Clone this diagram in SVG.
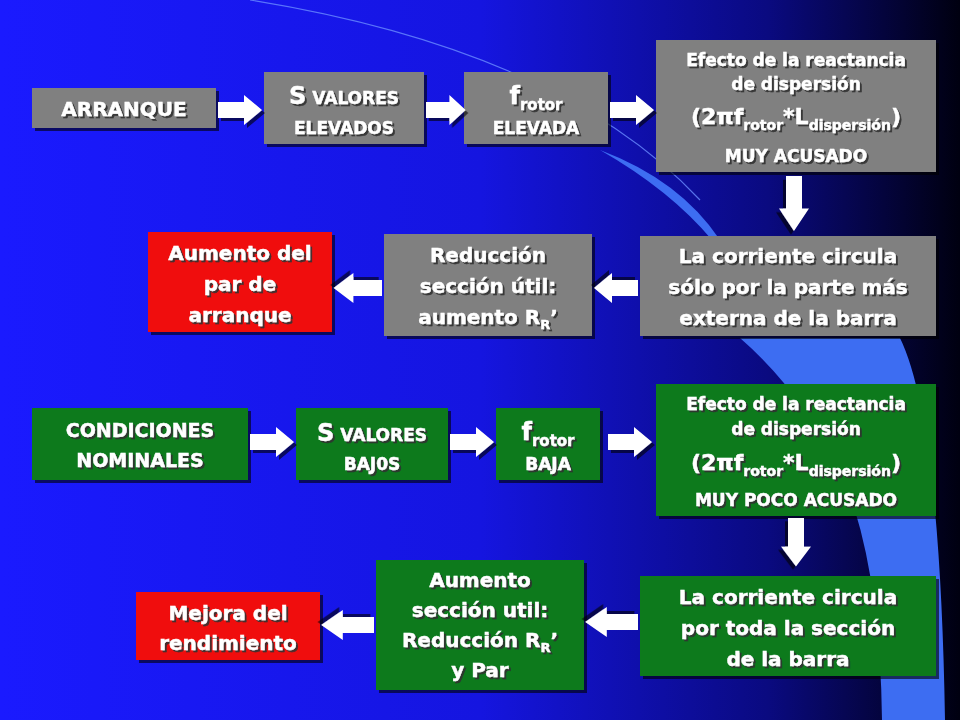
<svg xmlns="http://www.w3.org/2000/svg" width="960" height="720" viewBox="0 0 960 720">
<defs>
<linearGradient id="bg" x1="0" y1="0" x2="1" y2="0">
<stop offset="0" stop-color="#1a1aff"/><stop offset="0.5" stop-color="#1515e0"/><stop offset="0.8" stop-color="#0a0a80"/><stop offset="1" stop-color="#000010"/>
</linearGradient>
<filter id="sh" x="-10%" y="-10%" width="130%" height="130%"><feDropShadow dx="3" dy="3" stdDeviation="0.5" flood-color="#000" flood-opacity="0.6"/></filter>
<filter id="ts" x="-10%" y="-10%" width="130%" height="130%"><feDropShadow dx="2" dy="2" stdDeviation="0.3" flood-color="#333" flood-opacity="0.9"/></filter>
<path id="ar" d="M0,-8 L26,-8 L26,-15 L44,0 L26,15 L26,8 L0,8 Z"/>
</defs>
<style>
.g{fill:#808080}.r{fill:#f00f0f}.n{fill:#0a7a1e}
text{font-family:"DejaVu Sans",Verdana,sans-serif;font-weight:bold;fill:#fff;text-anchor:middle;filter:url(#ts);stroke:#fff;stroke-width:0.4}
.a{fill:#fff;filter:url(#sh)}
</style>
<rect width="960" height="720" fill="url(#bg)"/>
<path d="M250,0 Q560,50 700,200" fill="none" stroke="#6a8cff" stroke-width="1.2" opacity="0.8"/>
<path d="M600,150 Q680,180 720,240 L712,240 Q670,190 600,150 Z" fill="#3d6df2"/>
<path d="M740,338 L900,338 Q940,420 945,720 L882,720 Q880,560 840,470 Q800,390 740,338 Z" fill="#3d6df2"/>
<g id="n1" filter="url(#sh)"><rect class="g" x="32" y="88" width="184" height="40"/><text x="124" y="116" font-size="20">ARRANQUE</text></g>
<g id="n2" filter="url(#sh)"><rect class="g" x="264" y="72" width="160" height="72"/><text x="344" y="104" font-size="17"><tspan font-size="24">S</tspan> VALORES</text><text x="344" y="134" font-size="17">ELEVADOS</text></g>
<g id="n3" filter="url(#sh)"><rect class="g" x="464" y="72" width="144" height="72"/><text x="536" y="104" font-size="24">f<tspan font-size="15" dy="6">rotor</tspan></text><text x="536" y="134" font-size="17">ELEVADA</text></g>
<g id="n4" filter="url(#sh)"><rect class="g" x="656" y="40" width="280" height="132"/><text x="796" y="66" font-size="17">Efecto de la reactancia</text><text x="796" y="90" font-size="17">de dispersión</text><text x="796" y="124" font-size="22">(2πf<tspan font-size="14" dy="6">rotor</tspan><tspan dy="-6">*L</tspan><tspan font-size="14" dy="6">dispersión</tspan><tspan dy="-6">)</tspan></text><text x="796" y="162" font-size="17">MUY ACUSADO</text></g>
<g id="n5" filter="url(#sh)"><rect class="g" x="640" y="236" width="296" height="100"/><text x="788" y="263" font-size="20">La corriente circula</text><text x="788" y="294" font-size="20">sólo por la parte más</text><text x="788" y="325" font-size="20">externa de la barra</text></g>
<g id="n6" filter="url(#sh)"><rect class="g" x="384" y="234" width="208" height="102"/><text x="488" y="262" font-size="20">Reducción</text><text x="488" y="293" font-size="20">sección útil:</text><text x="488" y="324" font-size="20">aumento R<tspan font-size="13" dy="5">R</tspan><tspan dy="-5">’</tspan></text></g>
<g id="n7" filter="url(#sh)"><rect class="r" x="148" y="232" width="184" height="100"/><text x="240" y="260" font-size="20">Aumento del</text><text x="240" y="291" font-size="20">par de</text><text x="240" y="322" font-size="20">arranque</text></g>
<g id="n8" filter="url(#sh)"><rect class="n" x="32" y="408" width="216" height="72"/><text x="140" y="437" font-size="19">CONDICIONES</text><text x="140" y="467" font-size="19">NOMINALES</text></g>
<g id="n9" filter="url(#sh)"><rect class="n" x="296" y="408" width="152" height="72"/><text x="372" y="441" font-size="17"><tspan font-size="24">S</tspan> VALORES</text><text x="372" y="470" font-size="17">BAJ0S</text></g>
<g id="n10" filter="url(#sh)"><rect class="n" x="496" y="408" width="104" height="72"/><text x="548" y="440" font-size="24">f<tspan font-size="15" dy="6">rotor</tspan></text><text x="548" y="470" font-size="17">BAJA</text></g>
<g id="n11" filter="url(#sh)"><rect class="n" x="656" y="384" width="280" height="132"/><text x="796" y="410" font-size="17">Efecto de la reactancia</text><text x="796" y="435" font-size="17">de dispersión</text><text x="796" y="470" font-size="22">(2πf<tspan font-size="14" dy="6">rotor</tspan><tspan dy="-6">*L</tspan><tspan font-size="14" dy="6">dispersión</tspan><tspan dy="-6">)</tspan></text><text x="796" y="506" font-size="17">MUY POCO ACUSADO</text></g>
<g id="n12" filter="url(#sh)"><rect class="n" x="640" y="576" width="296" height="100"/><text x="788" y="604" font-size="20">La corriente circula</text><text x="788" y="635" font-size="20">por toda la sección</text><text x="788" y="666" font-size="20">de la barra</text></g>
<g id="n13" filter="url(#sh)"><rect class="n" x="376" y="560" width="208" height="130"/><text x="480" y="587" font-size="20">Aumento</text><text x="480" y="617" font-size="20">sección util:</text><text x="480" y="647" font-size="20">Reducción R<tspan font-size="13" dy="5">R</tspan><tspan dy="-5">’</tspan></text><text x="480" y="677" font-size="20">y Par</text></g>
<g id="n14" filter="url(#sh)"><rect class="r" x="136" y="592" width="184" height="68"/><text x="228" y="620" font-size="20">Mejora del</text><text x="228" y="650" font-size="20">rendimiento</text></g>
<g id="connectors">
<use href="#ar" class="a" transform="translate(218,110)"/>
<use href="#ar" class="a" transform="translate(426,110) scale(0.9,1)"/>
<use href="#ar" class="a" transform="translate(610,110)"/>
<use href="#ar" class="a" transform="translate(794,176) rotate(90) scale(1.25,1)"/>
<use href="#ar" class="a" transform="translate(638,288) rotate(180)"/>
<use href="#ar" class="a" transform="translate(382,288) rotate(180) scale(1.1,1)"/>
<use href="#ar" class="a" transform="translate(250,442)"/>
<use href="#ar" class="a" transform="translate(450,442)"/>
<use href="#ar" class="a" transform="translate(608,442)"/>
<use href="#ar" class="a" transform="translate(796,518) rotate(90) scale(1.1,1)"/>
<use href="#ar" class="a" transform="translate(638,622) rotate(180) scale(1.2,1)"/>
<use href="#ar" class="a" transform="translate(374,625) rotate(180) scale(1.2,1)"/>
</g>
</svg>
